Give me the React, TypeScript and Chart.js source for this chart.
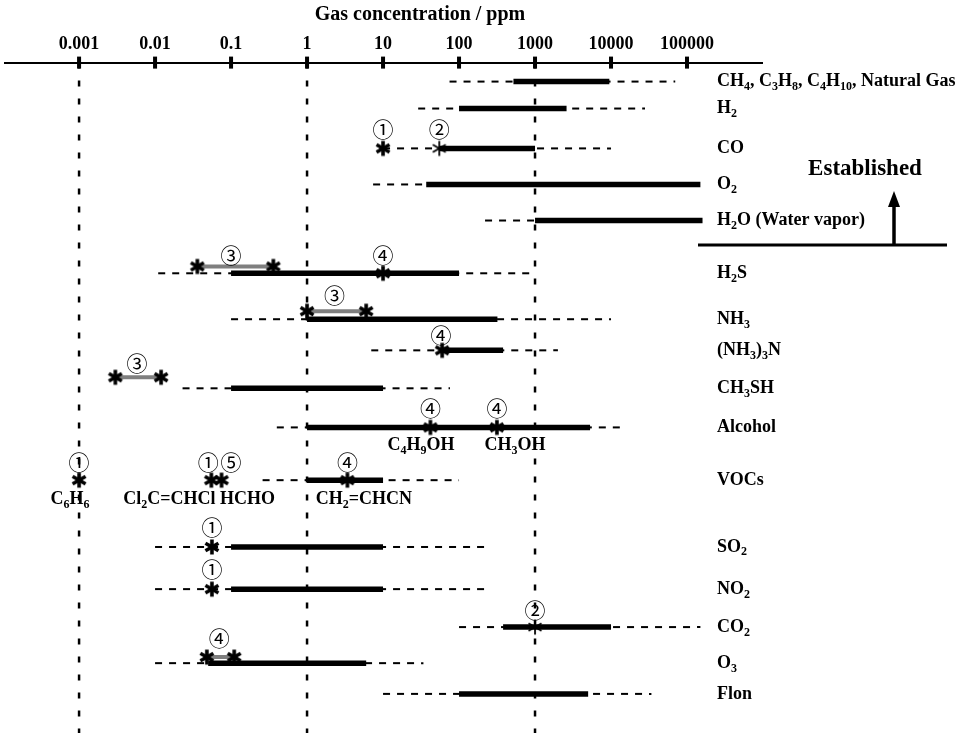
import React, { useEffect, useRef } from 'react';
import { Chart, registerables } from 'chart.js';

Chart.register(...registerables);

// ---------- data ----------
const tickValues = [0.001, 0.01, 0.1, 1, 10, 100, 1000, 10000, 100000];
const tickLabels = ['0.001', '0.01', '0.1', '1', '10', '100', '1000', '10000', '100000'];
const axisTitle = 'Gas concentration / ppm';

const gasLabels = [
  'CH_4, C_3H_8, C_4H_10, Natural Gas',
  'H_2',
  'CO',
  'O_2',
  'H_2O (Water vapor)',
  'H_2S',
  'NH_3',
  '(NH_3)_3N',
  'CH_3SH',
  'Alcohol',
  'VOCs',
  'SO_2',
  'NO_2',
  'CO_2',
  'O_3',
  'Flon',
];
// row position (row units, top to bottom)
const rowPos = [0.5, 1.21, 2.26, 3.21, 4.16, 5.55, 6.76, 7.58, 8.58, 9.61, 11.0, 12.76, 13.87, 14.87, 15.82, 16.63];
// dashed (possible) range, ppm
const dashFrom = [75, 29, 10, 7.4, 220, 0.011, 0.1, 7, 0.023, 0.4, 0.26, 0.01, 0.01, 100, 0.01, 10];
const dashTo = [70000, 28000, 10000, 37, 1000, 1000, 10000, 2000, 76, 16000, 100, 260, 260, 150000, 34, 34000];
// solid (established) range, ppm
const solidFrom = [520, 100, 55, 37, 1000, 0.1, 1, 60, 0.1, 1, 1, 0.1, 0.1, 380, 0.05, 100];
const solidTo = [9500, 2600, 1000, 150000, 160000, 100, 320, 380, 10, 5300, 10, 10, 10, 10000, 6, 5000];

// grey research ranges
const grayPos = [5.37, 6.55, 8.29, 15.66];
const grayFrom = [0.036, 1, 0.003, 0.048];
const grayTo = [0.36, 6, 0.012, 0.11];

// asterisks
const starX = [10, 55, 0.036, 0.36, 10, 1, 6, 60, 0.003, 0.012, 42, 315, 0.001, 0.055, 0.075, 3.4, 0.056, 0.056, 1000, 0.048, 0.11];
const starY = [2.26, 2.26, 5.37, 5.37, 5.55, 6.55, 6.55, 7.58, 8.29, 8.29, 9.61, 9.61, 11.0, 11.0, 11.0, 11.0, 12.76, 13.87, 14.87, 15.66, 15.66];
const starHeavy = [true, false, true, true, true, true, true, true, true, true, true, true, true, true, true, true, true, true, false, true, true];

// circled reference numbers
const circledText = ['①', '②', '③', '④', '③', '④', '③', '④', '④', '①', '①', '⑤', '④', '①', '①', '②', '④'];
const circledX = [10, 55, 0.1, 10, 2.3, 58, 0.0058, 42, 315, 0.001, 0.05, 0.1, 3.4, 0.056, 0.056, 1000, 0.07];
const circledY = [1.74, 1.74, 5.08, 5.08, 6.13, 7.18, 7.92, 9.11, 9.11, 10.53, 10.53, 10.53, 10.53, 12.24, 13.34, 14.42, 15.16];

// chemical names under asterisks
const formulaText = ['C_4H_9OH', 'CH_3OH', 'C_6H_6', 'Cl_2C=CHCl HCHO', 'CH_2=CHCN'];
const formulaX = [31.6, 545, 0.00076, 0.038, 5.6];
const formulaY = [10.08, 10.08, 11.5, 11.5, 11.5];

const referenceLines = [0.001, 1, 1000];
const establishedText = 'Established';

const xMin = 1.06e-4;
const xMax = 9.7e5;
const yMin = 0;
const yMax = 17.66;

// ---------- helpers ----------
const SERIF = '"Liberation Serif", "Times New Roman", serif';

function drawRich(ctx: CanvasRenderingContext2D, text: string, x: number, y: number, size: number, align: 'left' | 'center') {
  const parts: { t: string; sub: boolean; w: number }[] = [];
  const re = /_(\d+)/g;
  let last = 0;
  let m: RegExpExecArray | null;
  while ((m = re.exec(text))) {
    if (m.index > last) parts.push({ t: text.slice(last, m.index), sub: false, w: 0 });
    parts.push({ t: m[1], sub: true, w: 0 });
    last = re.lastIndex;
  }
  if (last < text.length) parts.push({ t: text.slice(last), sub: false, w: 0 });
  const mainFont = `bold ${size}px ${SERIF}`;
  const subFont = `bold ${Math.round(size * 0.68)}px ${SERIF}`;
  let total = 0;
  for (const p of parts) {
    ctx.font = p.sub ? subFont : mainFont;
    p.w = ctx.measureText(p.t).width;
    total += p.w;
  }
  let cx = align === 'center' ? x - total / 2 : x;
  ctx.textAlign = 'left';
  ctx.textBaseline = 'middle';
  for (const p of parts) {
    ctx.font = p.sub ? subFont : mainFont;
    ctx.fillText(p.t, cx, p.sub ? y + size * 0.3 : y);
    cx += p.w;
  }
}

function makeStar(lw: number) {
  const c = document.createElement('canvas');
  c.width = 20;
  c.height = 20;
  const g = c.getContext('2d')!;
  g.strokeStyle = '#000';
  g.lineWidth = lw;
  g.lineCap = 'butt';
  const r = 7.5;
  for (const a of [90, 30, 150]) {
    const rad = (a * Math.PI) / 180;
    g.beginPath();
    g.moveTo(10 - r * Math.cos(rad), 10 - r * Math.sin(rad));
    g.lineTo(10 + r * Math.cos(rad), 10 + r * Math.sin(rad));
    g.stroke();
  }
  return c;
}

const annotationPlugin = {
  id: 'annotations',
  afterDraw(chart: any) {
    const ctx: CanvasRenderingContext2D = chart.ctx;
    const xs = chart.scales.x;
    const ys = chart.scales.y;
    const area = chart.chartArea;
    ctx.save();
    ctx.fillStyle = '#000';
    ctx.strokeStyle = '#000';

    // tick marks crossing the axis line
    for (const t of xs.ticks) {
      const px = xs.getPixelForValue(t.value);
      ctx.fillRect(px - 2, area.top - 6, 4, 12);
    }

    // axis title
    ctx.font = `bold 20px ${SERIF}`;
    ctx.textAlign = 'center';
    ctx.textBaseline = 'middle';
    ctx.fillText(axisTitle, 420, 15);

    // row labels
    gasLabels.forEach((lab, i) => {
      drawRich(ctx, lab, area.right - 45, ys.getPixelForValue(rowPos[i]), 18, 'left');
    });

    // formula labels
    formulaText.forEach((f, i) => {
      drawRich(ctx, f, xs.getPixelForValue(formulaX[i]), ys.getPixelForValue(formulaY[i]), 18, 'center');
    });

    // circled numbers
    ctx.font = '21px "Noto Sans CJK JP", "DejaVu Sans", sans-serif';
    ctx.textAlign = 'center';
    ctx.textBaseline = 'middle';
    circledText.forEach((c, i) => {
      ctx.fillText(c, xs.getPixelForValue(circledX[i]), ys.getPixelForValue(circledY[i]));
    });

    // Established marker
    const baseY = 245;
    ctx.lineWidth = 3;
    ctx.beginPath();
    ctx.moveTo(698, baseY);
    ctx.lineTo(947, baseY);
    ctx.stroke();
    ctx.lineWidth = 3.5;
    ctx.beginPath();
    ctx.moveTo(894, baseY);
    ctx.lineTo(894, 205);
    ctx.stroke();
    ctx.beginPath();
    ctx.moveTo(894, 191);
    ctx.lineTo(888, 207);
    ctx.lineTo(900, 207);
    ctx.closePath();
    ctx.fill();
    ctx.font = `bold 23px ${SERIF}`;
    ctx.textAlign = 'center';
    ctx.textBaseline = 'middle';
    ctx.fillText(establishedText, 865, 169);

    ctx.restore();
  },
};

export default function App() {
  const ref = useRef<HTMLCanvasElement | null>(null);

  useEffect(() => {
    document.body.style.margin = '0';
    const canvas = ref.current;
    if (!canvas) return;
    const heavy = makeStar(3.6);
    const thin = makeStar(1.8);

    const datasets: any[] = [];

    datasets.push({
      data: starX.map((x, i) => ({ x, y: starY[i] })),
      showLine: false,
      pointRadius: 8,
      pointStyle: (c: any) => (starHeavy[c.dataIndex] ? heavy : thin),
      order: 0,
    });

    grayFrom.forEach((f, i) => {
      datasets.push({
        data: [{ x: f, y: grayPos[i] }, { x: grayTo[i], y: grayPos[i] }],
        showLine: true,
        borderColor: '#7f7f7f',
        borderWidth: 4,
        pointRadius: 0,
        order: 1,
      });
    });

    solidFrom.forEach((f, i) => {
      datasets.push({
        data: [{ x: f, y: rowPos[i] }, { x: solidTo[i], y: rowPos[i] }],
        showLine: true,
        borderColor: '#000',
        borderWidth: 5.5,
        borderCapStyle: 'butt',
        pointRadius: 0,
        order: 2,
      });
    });

    dashFrom.forEach((f, i) => {
      datasets.push({
        data: [{ x: f, y: rowPos[i] }, { x: dashTo[i], y: rowPos[i] }],
        showLine: true,
        borderColor: '#000',
        borderWidth: 2,
        borderDash: [7, 7],
        pointRadius: 0,
        order: 3,
      });
    });

    referenceLines.forEach((v) => {
      datasets.push({
        data: [{ x: v, y: yMin }, { x: v, y: yMax }],
        showLine: true,
        borderColor: '#000',
        borderWidth: 2.5,
        borderDash: [6, 12],
        pointRadius: 0,
        order: 4,
      });
    });

    const chart = new Chart(canvas, {
      type: 'scatter',
      data: { datasets },
      options: {
        responsive: false,
        animation: false,
        events: [],
        layout: { autoPadding: false, padding: { left: 5, right: 204, top: 27, bottom: 0 } },
        plugins: {
          legend: { display: false },
          tooltip: { enabled: false },
        },
        scales: {
          x: {
            type: 'logarithmic',
            position: 'top',
            min: xMin,
            max: xMax,
            afterBuildTicks: (s: any) => {
              s.ticks = tickValues.map((v) => ({ value: v }));
            },
            ticks: {
              callback: (_v: any, i: number) => tickLabels[i],
              font: { family: SERIF, size: 18, weight: 'bold' },
              color: '#000',
              padding: 7,
              maxRotation: 0,
              autoSkip: false,
            },
            grid: { display: true, drawOnChartArea: false, drawTicks: false },
            border: { display: true, color: '#000', width: 2 },
          },
          y: {
            type: 'linear',
            reverse: true,
            min: yMin,
            max: yMax,
            display: false,
          },
        },
      } as any,
      plugins: [annotationPlugin],
    });

    return () => chart.destroy();
  }, []);

  return <canvas ref={ref} width={966} height={733} style={{ display: 'block' }} />;
}
